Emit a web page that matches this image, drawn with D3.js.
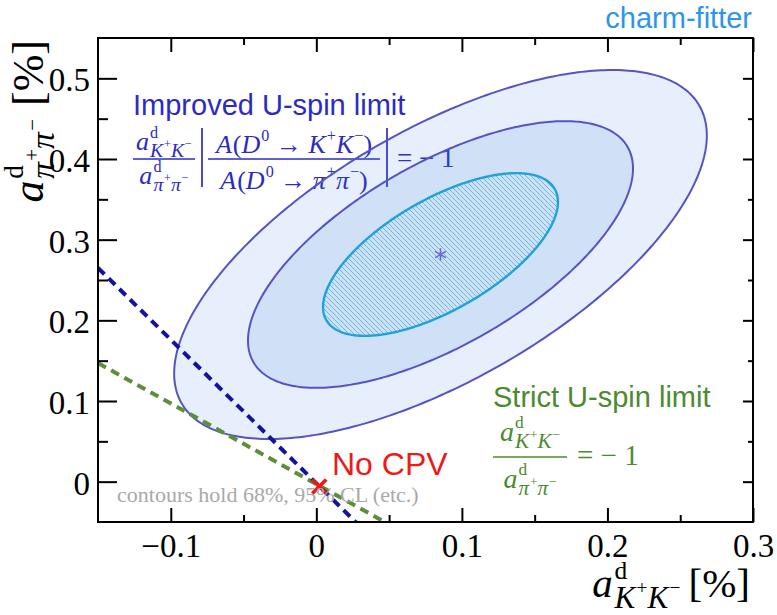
<!DOCTYPE html>
<html>
<head>
<meta charset="utf-8">
<script src="https://cdn.jsdelivr.net/npm/d3@7"></script>
<style>
  html, body { margin: 0; padding: 0; background: #fff; }
  svg { display: block; }
  svg text { white-space: pre; }
</style>
</head>
<body>
<svg id="chart" width="777" height="615"></svg>
<script>
// ---- data -----------------------------------------------------------------
// Axis ticks (direct CP asymmetries, in %)
const xMajor = [-0.1, 0, 0.1, 0.2, 0.3];
const xMinor = [-0.05, 0.05, 0.15, 0.25];
const xTickLabels = ["\u22120.1", "0", "0.1", "0.2", "0.3"];
const yMajor = [0, 0.1, 0.2, 0.3, 0.4, 0.5];
const yMinor = [0.05, 0.15, 0.25, 0.35, 0.45];
const yTickLabels = ["0", "0.1", "0.2", "0.3", "0.4", "0.5"];

// Fit result: central values [a_KK, a_pipi], uncertainties and correlation
const fitCentre = [0.0853, 0.2816];
const fitSigma = [0.0532, 0.0665];
const fitCorrelation = 0.645;
// Delta chi2 of the drawn 2D contours (99.7%, 95.4%, 68.3% CL), outermost first
const contourDeltaChi2 = [11.83, 6.18, 2.30];

// U-spin relations a_pipi = slope * a_KK + offset
const improvedLimit = [-1.78, -0.002];
const strictLimit = [-1.0, -0.003];
// No-CP-violation point
const noCPV = [0.002, -0.006];

// ---- setup ----------------------------------------------------------------
const SERIF = "'Liberation Serif','Times New Roman',serif";
const SANS = "'Liberation Sans',Arial,Helvetica,sans-serif";
const BLUE_TXT = "#2b2bc4";
const GREEN_TXT = "#4c8a30";

const svg = d3.select("#chart");
svg.append("rect").attr("width", 777).attr("height", 615).attr("fill", "#fff");

const frame = { left: 98, top: 38, right: 753, bottom: 522 };
const x = d3.scaleLinear().domain([-0.15, 0.3]).range([frame.left, frame.right]);
const y = d3.scaleLinear().domain([-0.05, 0.55]).range([frame.bottom, frame.top]);

const defs = svg.append("defs");
defs.append("clipPath").attr("id", "plot-clip")
  .append("rect").attr("x", frame.left).attr("y", frame.top)
  .attr("width", frame.right - frame.left).attr("height", frame.bottom - frame.top);

const hatch = defs.append("pattern").attr("id", "hatch")
  .attr("patternUnits", "userSpaceOnUse").attr("width", 5).attr("height", 5);
hatch.append("path")
  .attr("d", "M-1,-1L6,6M-1,4L1,6M4,-1L6,1")
  .attr("stroke", "#55b6e0").attr("stroke-width", 0.9).attr("fill", "none");

// ---- small math typesetter: one <text>, tspans with sub/superscripts -------
const SUP = { scale: 0.62, shift: 0.45 };
const SUB = { scale: 0.76, shift: 0.26 };
function typeset(text, items, x0, y0, size, spans) {
  let cx = x0;
  for (const it of items) {
    if (typeof it === "string" || it.t !== undefined) {
      const s = typeof it === "string" ? it : it.t;
      const italic = typeof it === "object" && it.i;
      const span = text.append("tspan")
        .attr("x", cx).attr("y", y0)
        .attr("font-size", size)
        .attr("font-style", italic ? "italic" : "normal")
        .text(s);
      spans.push(span);
      cx += span.node().getComputedTextLength() + (italic ? size * 0.04 : 0);
    } else if (it.gap !== undefined) {
      cx += it.gap * size;
    } else {
      let w = 0;
      if (it.sup) w = Math.max(w, typeset(text, it.sup, cx, y0 - SUP.shift * size, size * SUP.scale, spans) - cx);
      if (it.sub) w = Math.max(w, typeset(text, it.sub, cx, y0 + SUB.shift * size, size * SUB.scale, spans) - cx);
      cx += w;
    }
  }
  return cx;
}
function mathText(g, color) {
  return g.append("text").attr("font-family", SERIF).attr("fill", color);
}
function shiftSpans(spans, dx) {
  spans.forEach(s => s.attr("x", +s.attr("x") + dx));
}
// an expression laid out from (x0, y0); returns its text element and width
function expr(g, items, x0, y0, size, color) {
  const text = mathText(g, color), spans = [];
  const w = typeset(text, items, x0, y0, size, spans) - x0;
  return { text, w };
}
function fraction(g, num, den, x0, x1, barY, numBase, denBase, size, color) {
  const text = mathText(g, color);
  const mid = (x0 + x1) / 2;
  const ns = [], ds = [];
  const wn = typeset(text, num, 0, numBase, size, ns);
  const wd = typeset(text, den, 0, denBase, size, ds);
  shiftSpans(ns, mid - wn / 2);
  shiftSpans(ds, mid - wd / 2);
  g.append("line").attr("x1", x0).attr("x2", x1).attr("y1", barY).attr("y2", barY)
    .attr("stroke", color).attr("stroke-width", 1.7);
}

const subKK = [{ t: "K", i: 1 }, { sup: ["+"] }, { t: "K", i: 1 }, { sup: ["\u2212"] }];
const subPiPi = [{ t: "\u03c0", i: 1 }, { sup: ["+"] }, { t: "\u03c0", i: 1 }, { sup: ["\u2212"] }];
const aKK = [{ t: "a", i: 1 }, { sup: ["d"], sub: subKK }];
const aPiPi = [{ t: "a", i: 1 }, { sup: ["d"], sub: subPiPi }];
const ampKK = [{ t: "A", i: 1 }, "(", { t: "D", i: 1 }, { sup: ["0"] }, " \u2192 ", ...subKK, ")"];
const ampPiPi = [{ t: "A", i: 1 }, "(", { t: "D", i: 1 }, { sup: ["0"] }, " \u2192 ", ...subPiPi, ")"];

// ---- improved U-spin annotation (under the translucent contours) ----------
const ann = svg.append("g");
ann.append("text").attr("x", 133).attr("y", 115)
  .attr("font-family", SANS).attr("font-size", 29).attr("fill", BLUE_TXT)
  .text("Improved U-spin limit");
fraction(ann, aKK, aPiPi, 133, 195, 159, 150, 184, 26, BLUE_TXT);
ann.append("line").attr("x1", 202).attr("x2", 202).attr("y1", 128).attr("y2", 187)
  .attr("stroke", BLUE_TXT).attr("stroke-width", 1.7);
fraction(ann, ampKK, ampPiPi, 208, 380, 159, 153, 189, 26, BLUE_TXT);
ann.append("line").attr("x1", 387).attr("x2", 387).attr("y1", 128).attr("y2", 187)
  .attr("stroke", BLUE_TXT).attr("stroke-width", 1.7);
expr(ann, ["= \u2212 1"], 397, 167, 27, BLUE_TXT);

// ---- confidence contours ---------------------------------------------------
function contourPoints(dchi2) {
  const k = Math.sqrt(dchi2), pts = [];
  const r = fitCorrelation, s = Math.sqrt(1 - r * r);
  for (let i = 0; i < 360; i++) {
    const t = 2 * Math.PI * i / 360, u = Math.cos(t), v = Math.sin(t);
    pts.push([fitCentre[0] + k * fitSigma[0] * u,
              fitCentre[1] + k * fitSigma[1] * (r * u + s * v)]);
  }
  return pts;
}
const line = d3.line().x(d => x(d[0])).y(d => y(d[1])).curve(d3.curveLinearClosed);

const plot = svg.append("g").attr("clip-path", "url(#plot-clip)");
contourDeltaChi2.forEach((dc, i) => {
  const pts = contourPoints(dc);
  const inner = i === contourDeltaChi2.length - 1;
  if (inner) {
    plot.append("path").attr("d", line(pts)).attr("fill", "url(#hatch)");
  } else {
    plot.append("path").attr("d", line(pts))
      .attr("fill", "#2f7fe0").attr("fill-opacity", 0.12).attr("stroke", "none");
  }
  plot.append("path").attr("d", line(pts)).attr("fill", "none")
    .attr("stroke", inner ? "#1fa2d8" : "#5753c2")
    .attr("stroke-width", inner ? 2.4 : 2);
});

// best fit point
plot.append("path")
  .attr("transform", `translate(${x(fitCentre[0])},${y(fitCentre[1])})`)
  .attr("d", d3.symbol(d3.symbolAsterisk, 110)())
  .attr("fill", "none").attr("stroke", "#6a66d6").attr("stroke-width", 1.5);

// ---- U-spin limit lines -----------------------------------------------------
function limitLine(par, color) {
  const xs = x.domain();
  plot.append("line")
    .attr("x1", x(xs[0])).attr("y1", y(par[0] * xs[0] + par[1]))
    .attr("x2", x(xs[1])).attr("y2", y(par[0] * xs[1] + par[1]))
    .attr("stroke", color).attr("stroke-width", 4).attr("stroke-dasharray", "9,6");
}
limitLine(strictLimit, "#5b8f3c");
limitLine(improvedLimit, "#1212a2");

// no CPV marker
plot.append("path")
  .attr("transform", `translate(${x(noCPV[0])},${y(noCPV[1])})`)
  .attr("d", d3.symbol(d3.symbolTimes, 130)())
  .attr("fill", "none").attr("stroke", "#ee1a1a").attr("stroke-width", 3.6);

// ---- other annotations -----------------------------------------------------
svg.append("text").attr("x", 332).attr("y", 475)
  .attr("font-family", SANS).attr("font-size", 32).attr("fill", "#ee1a1a").text("No CPV");

svg.append("text").attr("x", 117).attr("y", 502)
  .attr("font-family", SERIF).attr("font-size", 22).attr("fill", "#a9a9a9")
  .text("contours hold 68%, 95% CL (etc.)");

svg.append("text").attr("x", 493).attr("y", 407)
  .attr("font-family", SANS).attr("font-size", 29).attr("fill", GREEN_TXT)
  .text("Strict U-spin limit");
const strictAnn = svg.append("g");
fraction(strictAnn, aKK, aPiPi, 493, 567, 457, 441, 488, 28, GREEN_TXT);
expr(strictAnn, ["= \u2212 1"], 577, 465, 29, GREEN_TXT);

svg.append("text").attr("x", 752).attr("y", 28).attr("text-anchor", "end")
  .attr("font-family", SANS).attr("font-size", 29).attr("fill", "#2d96e6")
  .text("charm-fitter");

// ---- axes ------------------------------------------------------------------
function styleAxis(g) {
  g.select(".domain").remove();
  g.selectAll(".tick line").attr("stroke", "#000").attr("stroke-width", 2);
  g.selectAll(".tick text").attr("font-family", SERIF).attr("font-size", 33).attr("fill", "#000");
}
svg.append("g").attr("transform", `translate(0,${frame.bottom})`)
  .call(d3.axisBottom(x).tickValues(xMajor).tickSize(-14).tickPadding(12)
    .tickFormat((d, i) => xTickLabels[i])).call(styleAxis);
svg.append("g").attr("transform", `translate(0,${frame.bottom})`)
  .call(d3.axisBottom(x).tickValues(xMinor).tickSize(-7).tickFormat("")).call(styleAxis);
svg.append("g").attr("transform", `translate(0,${frame.top})`)
  .call(d3.axisTop(x).tickValues(xMajor).tickSize(-14).tickFormat("")).call(styleAxis);
svg.append("g").attr("transform", `translate(0,${frame.top})`)
  .call(d3.axisTop(x).tickValues(xMinor).tickSize(-7).tickFormat("")).call(styleAxis);

const yl = svg.append("g").attr("transform", `translate(${frame.left},0)`)
  .call(d3.axisLeft(y).tickValues(yMajor).tickSize(-19).tickPadding(8)
    .tickFormat((d, i) => yTickLabels[i])).call(styleAxis);
yl.selectAll(".tick text").attr("dy", "0.38em");
svg.append("g").attr("transform", `translate(${frame.left},0)`)
  .call(d3.axisLeft(y).tickValues(yMinor).tickSize(-10).tickFormat("")).call(styleAxis);
svg.append("g").attr("transform", `translate(${frame.right},0)`)
  .call(d3.axisRight(y).tickValues(yMajor).tickSize(-10).tickFormat("")).call(styleAxis);
svg.append("g").attr("transform", `translate(${frame.right},0)`)
  .call(d3.axisRight(y).tickValues(yMinor).tickSize(-5).tickFormat("")).call(styleAxis);

svg.append("rect").attr("x", frame.left).attr("y", frame.top)
  .attr("width", frame.right - frame.left).attr("height", frame.bottom - frame.top)
  .attr("fill", "none").attr("stroke", "#000").attr("stroke-width", 2);

// ---- axis titles -------------------------------------------------------------
const xt = expr(svg, [...aKK, { gap: 0.2 }, "[%]"], 0, 0, 41, "#000");
xt.text.attr("transform", `translate(${750 - xt.w},597)`);
const yt = expr(svg, [...aPiPi, { gap: 0.3 }, "[%]"], 0, 0, 44, "#000");
yt.text.attr("transform", `translate(43,${40 + yt.w}) rotate(-90)`);
</script>
</body>
</html>
